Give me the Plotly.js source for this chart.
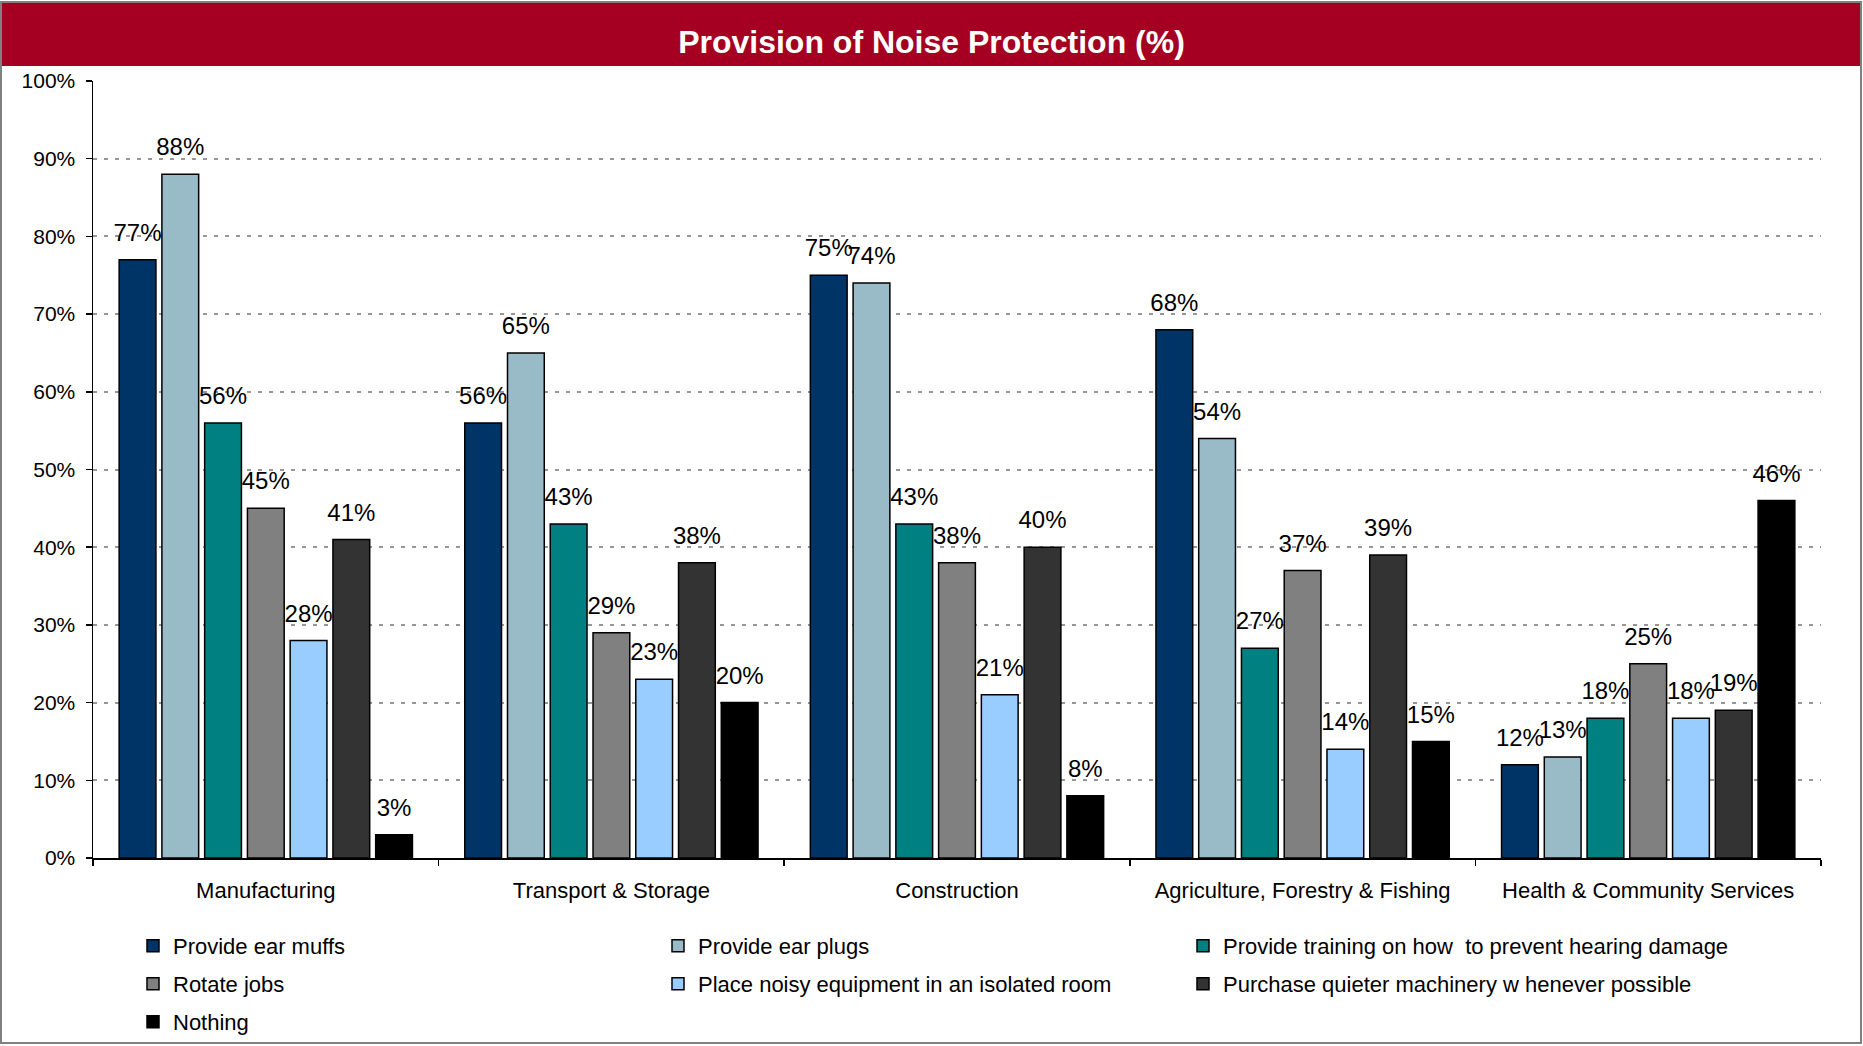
<!DOCTYPE html>
<html>
<head>
<meta charset="utf-8">
<script src="https://cdn.plot.ly/plotly-3.0.1.min.js"></script>
<style>
html,body{margin:0;padding:0;background:#fff;}
#chart{width:1863px;height:1046px;}
</style>
</head>
<body>
<div id="chart"></div>
<script>
const categories = ['Manufacturing', 'Transport & Storage', 'Construction', 'Agriculture, Forestry & Fishing', 'Health & Community Services'];
const seriesNames = ['Provide ear muffs', 'Provide ear plugs', 'Provide training on how  to prevent hearing damage', 'Rotate jobs', 'Place noisy equipment in an isolated room', 'Purchase quieter machinery w henever possible', 'Nothing'];
const earMuffs  = [77, 56, 75, 68, 12];
const earPlugs  = [88, 65, 74, 54, 13];
const training  = [56, 43, 43, 27, 18];
const rotateJobs = [45, 29, 38, 37, 25];
const isolatedRoom = [28, 23, 21, 14, 18];
const quieterMachinery = [41, 38, 40, 39, 19];
const nothing = [3, 20, 8, 15, 46];
const yTicks = [0, 10, 20, 30, 40, 50, 60, 70, 80, 90, 100];

const seriesValues = [earMuffs, earPlugs, training, rotateJobs, isolatedRoom, quieterMachinery, nothing];
const colors = ['#003366', '#99BBC8', '#008080', '#808080', '#99CCFF', '#333333', '#000000'];
const legendIds = ['legend', 'legend', 'legend4', 'legend2', 'legend2', 'legend5', 'legend3'];

const W = 1863, H = 1046;
const M = {l: 93, r: 42, t: 81, b: 188};
const PW = W - M.l - M.r, PH = H - M.t - M.b;
const px2x = x => (x - M.l) / PW;
const px2y = y => (H - M.b - y) / PH;
const FONT = 'Liberation Sans, Arial, sans-serif';

const traces = [];
seriesValues.forEach((vals, i) => {
  traces.push({
    type: 'bar', x: categories, y: vals, name: seriesNames[i],
    marker: {color: colors[i], line: {color: '#000000', width: 1.5}},
    legend: legendIds[i], hoverinfo: 'skip'
  });
});
seriesValues.forEach((vals, i) => {
  traces.push({
    type: 'scatter', mode: 'markers+text', x: categories, y: vals,
    text: vals.map(v => v + '%'), textposition: 'top center',
    textfont: {family: FONT, size: 24, color: '#000000'},
    marker: {size: 19, color: 'rgba(0,0,0,0)'},
    showlegend: false, hoverinfo: 'skip', cliponaxis: false
  });
});

const legendBase = {
  orientation: 'h', xanchor: 'left', yanchor: 'middle', x: px2x(133),
  yref: 'container',
  font: {family: FONT, size: 22, color: '#000000'},
  entrywidth: 480, entrywidthmode: 'pixels', bgcolor: 'rgba(0,0,0,0)',
  traceorder: 'normal', itemclick: false, itemdoubleclick: false
};
const legendCol3 = {
  orientation: 'v', xanchor: 'left', yanchor: 'middle', x: px2x(1183),
  yref: 'container',
  font: {family: FONT, size: 22, color: '#000000'},
  bgcolor: 'rgba(0,0,0,0)', itemclick: false, itemdoubleclick: false
};

const layout = {
  width: W, height: H,
  margin: M,
  paper_bgcolor: '#ffffff', plot_bgcolor: '#ffffff',
  font: {family: FONT, color: '#000000'},
  title: {
    text: '<b>Provision of Noise Protection (%)</b>',
    font: {family: FONT, size: 32, color: '#ffffff'},
    x: 0.5, xref: 'container', xanchor: 'center',
    y: 1 - 41.5 / H, yref: 'container', yanchor: 'middle'
  },
  barmode: 'group', bargap: 0.134, bargroupgap: 0.14,
  scattermode: 'group', scattergap: 0.134,
  xaxis: {
    type: 'category', showline: true, linecolor: '#000000', linewidth: 1.5,
    ticks: 'outside', tickson: 'boundaries', ticklen: 6, tickcolor: '#000000', tickwidth: 1.5,
    showgrid: false, ticklabelstandoff: 12,
    tickfont: {family: FONT, size: 22, color: '#000000'}, fixedrange: true
  },
  yaxis: {
    range: [0, 100], tickvals: yTicks, ticktext: yTicks.map(v => v + '%'),
    showline: true, linecolor: '#000000', linewidth: 1.5,
    ticks: 'outside', ticklen: 6, tickcolor: '#000000', tickwidth: 1.5,
    showgrid: true, gridcolor: '#969696', gridwidth: 2, griddash: '4px,7px',
    zeroline: false, ticklabelstandoff: 6,
    tickfont: {family: FONT, size: 21, color: '#000000'}, fixedrange: true
  },
  legend: Object.assign({}, legendBase, {y: 1 - 946 / H}),
  legend2: Object.assign({}, legendBase, {y: 1 - 984 / H}),
  legend3: Object.assign({}, legendBase, {y: 1 - 1022 / H}),
  legend4: Object.assign({}, legendCol3, {y: 1 - 946 / H}),
  legend5: Object.assign({}, legendCol3, {y: 1 - 984 / H}),
  shapes: [
    {type: 'rect', xref: 'paper', yref: 'paper', layer: 'below',
     x0: px2x(2), x1: px2x(W - 2), y0: px2y(66), y1: px2y(3),
     fillcolor: '#A50021', line: {width: 0}},
    {type: 'rect', xref: 'paper', yref: 'paper', layer: 'above',
     x0: px2x(1), x1: px2x(W - 2), y0: px2y(H - 3), y1: px2y(2),
     fillcolor: 'rgba(0,0,0,0)', line: {color: '#808080', width: 2}}
  ],
  showlegend: true
};

Plotly.newPlot('chart', traces, layout, {displayModeBar: false, staticPlot: true});
</script>
</body>
</html>
